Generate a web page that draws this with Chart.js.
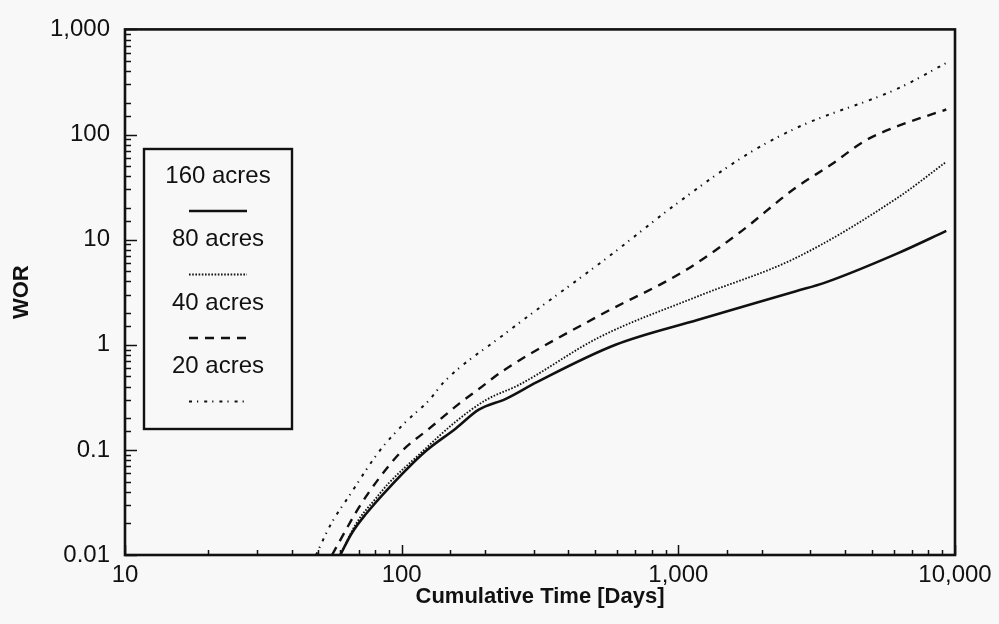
<!DOCTYPE html>
<html>
<head>
<meta charset="utf-8">
<script src="https://cdn.jsdelivr.net/npm/chart.js@4.4.1/dist/chart.umd.min.js"></script>
<style>
  html, body { margin: 0; padding: 0; background: #f8f8f8; }
  #wrap { width: 999px; height: 624px; }
</style>
</head>
<body>
<div id="wrap"><canvas id="chart" width="999" height="624"></canvas></div>
<script>
// series (days, WOR)
const seriesLabels = ['160 acres', '80 acres', '40 acres', '20 acres'];

const days160 = [60, 66, 74.5, 90, 122, 157, 190, 238, 308, 593, 1180, 2660, 3390, 6200, 9300];
const wor160  = [0.01, 0.0161, 0.0248, 0.0436, 0.097, 0.16, 0.241, 0.306, 0.441, 1.0, 1.73, 3.23, 3.9, 7.4, 12.1];

const days80 = [60, 68.5, 81, 90, 116, 157, 202, 265, 515, 1180, 2660, 6200, 9300];
const wor80  = [0.01, 0.02, 0.035, 0.0485, 0.091, 0.186, 0.299, 0.414, 1.17, 2.9, 6.7, 25, 55];

const days40 = [56, 70, 83, 100, 126, 161, 190, 234, 515, 1060, 1645, 2660, 3560, 4720, 6200, 9300];
const wor40  = [0.01, 0.0282, 0.054, 0.097, 0.16, 0.274, 0.379, 0.572, 1.88, 5.1, 11.4, 31.3, 51.5, 87, 120, 173];

const days20 = [49, 55.7, 64.7, 83, 102, 126, 142, 234, 560, 1000, 1760, 2700, 6200, 9300];
const wor20  = [0.01, 0.02, 0.0367, 0.097, 0.178, 0.299, 0.441, 1.25, 6.9, 22.6, 64, 117, 273, 479];

const xMin = 10, xMax = 10000;
const yMin = 0.01, yMax = 1000;

const FONT = '"Liberation Sans", Arial, sans-serif';

function pts(xs, ys) {
  return xs.map((x, i) => ({ x: x, y: ys[i] }));
}

function isDecade(v) {
  const l = Math.log10(v);
  return Math.abs(l - Math.round(l)) < 1e-6;
}

function decadeLabel(v) {
  if (!isDecade(v)) return '';
  const p = Math.round(Math.log10(v));
  if (p < 0) return (Math.pow(10, p)).toFixed(-p);
  return Math.pow(10, p).toLocaleString('en-US');
}

const styles = [
  { width: 2.6, dash: [] },
  { width: 1.8, dash: [1.6, 1.6] },
  { width: 2.4, dash: [9, 7] },
  { width: 2.0, dash: [3, 5, 1.2, 6] }
];

const datasets = [
  pts(days160, wor160),
  pts(days80, wor80),
  pts(days40, wor40),
  pts(days20, wor20)
].map((d, i) => ({
  label: seriesLabels[i],
  data: d,
  borderColor: '#111',
  borderWidth: styles[i].width,
  borderDash: styles[i].dash,
  pointRadius: 0,
  fill: false,
  cubicInterpolationMode: 'monotone'
}));

// background, frame, inward ticks, boxed legend
const decor = {
  id: 'decor',
  beforeDraw(chart) {
    const ctx = chart.ctx;
    ctx.save();
    ctx.fillStyle = '#f8f8f8';
    ctx.fillRect(0, 0, chart.width, chart.height);
    ctx.restore();
  },
  afterDraw(chart) {
    const ctx = chart.ctx;
    const a = chart.chartArea;
    const xs = chart.scales.x, ys = chart.scales.y;
    ctx.save();
    ctx.strokeStyle = '#111';
    ctx.setLineDash([]);

    // ticks pointing into the plot
    ctx.lineWidth = 1.5;
    ys.ticks.forEach(t => {
      const y = Math.round(ys.getPixelForValue(t.value)) + 0.5;
      const len = isDecade(t.value) ? 12 : 6;
      ctx.beginPath();
      ctx.moveTo(a.left, y);
      ctx.lineTo(a.left + len, y);
      ctx.stroke();
    });
    xs.ticks.forEach(t => {
      const x = Math.round(xs.getPixelForValue(t.value)) + 0.5;
      const len = isDecade(t.value) ? 10 : 5;
      ctx.beginPath();
      ctx.moveTo(x, a.bottom);
      ctx.lineTo(x, a.bottom - len);
      ctx.stroke();
    });

    // frame
    ctx.lineWidth = 2.6;
    ctx.strokeRect(a.left, a.top, a.right - a.left, a.bottom - a.top);

    // legend box
    const bx = 144, by = 149, bw = 148, bh = 280;
    ctx.lineWidth = 2.4;
    ctx.strokeRect(bx, by, bw, bh);
    const cx = bx + bw / 2;
    ctx.fillStyle = '#111';
    ctx.font = '24px ' + FONT;
    ctx.textAlign = 'center';
    ctx.textBaseline = 'middle';
    chart.data.datasets.forEach((ds, i) => {
      const ty = by + 27 + i * 63.5;
      ctx.fillText(ds.label, cx, ty);
      const sy = ty + 35;
      ctx.lineWidth = ds.borderWidth;
      ctx.setLineDash(ds.borderDash);
      ctx.beginPath();
      ctx.moveTo(cx - 29, sy);
      ctx.lineTo(cx + 29, sy);
      ctx.stroke();
    });
    ctx.restore();
  }
};

new Chart(document.getElementById('chart'), {
  type: 'line',
  data: { datasets: datasets },
  options: {
    responsive: false,
    animation: false,
    devicePixelRatio: 1,
    layout: { padding: { top: 23, right: 44, left: 0, bottom: 0 } },
    plugins: { legend: { display: false }, tooltip: { enabled: false } },
    scales: {
      x: {
        type: 'logarithmic',
        min: xMin,
        max: xMax,
        grid: { display: false, drawTicks: false },
        border: { display: false },
        ticks: {
          autoSkip: false,
          maxRotation: 0,
          padding: 6,
          color: '#111',
          font: { family: FONT, size: 24 },
          callback: v => decadeLabel(v)
        },
        title: {
          display: true,
          text: 'Cumulative Time [Days]',
          color: '#111',
          font: { family: FONT, size: 22, weight: 'bold' },
          padding: { top: 0, bottom: 14 }
        },
        afterFit(s) { s.height = 69; }
      },
      y: {
        type: 'logarithmic',
        min: yMin,
        max: yMax,
        grid: { display: false, drawTicks: false },
        border: { display: false },
        ticks: {
          autoSkip: false,
          padding: 15,
          color: '#111',
          font: { family: FONT, size: 24 },
          callback: v => decadeLabel(v)
        },
        title: {
          display: true,
          text: 'WOR',
          color: '#111',
          font: { family: FONT, size: 22, weight: 'bold' },
          padding: { top: 9, bottom: 0 }
        },
        afterFit(s) { s.width = 125; }
      }
    }
  },
  plugins: [decor]
});
</script>
</body>
</html>
